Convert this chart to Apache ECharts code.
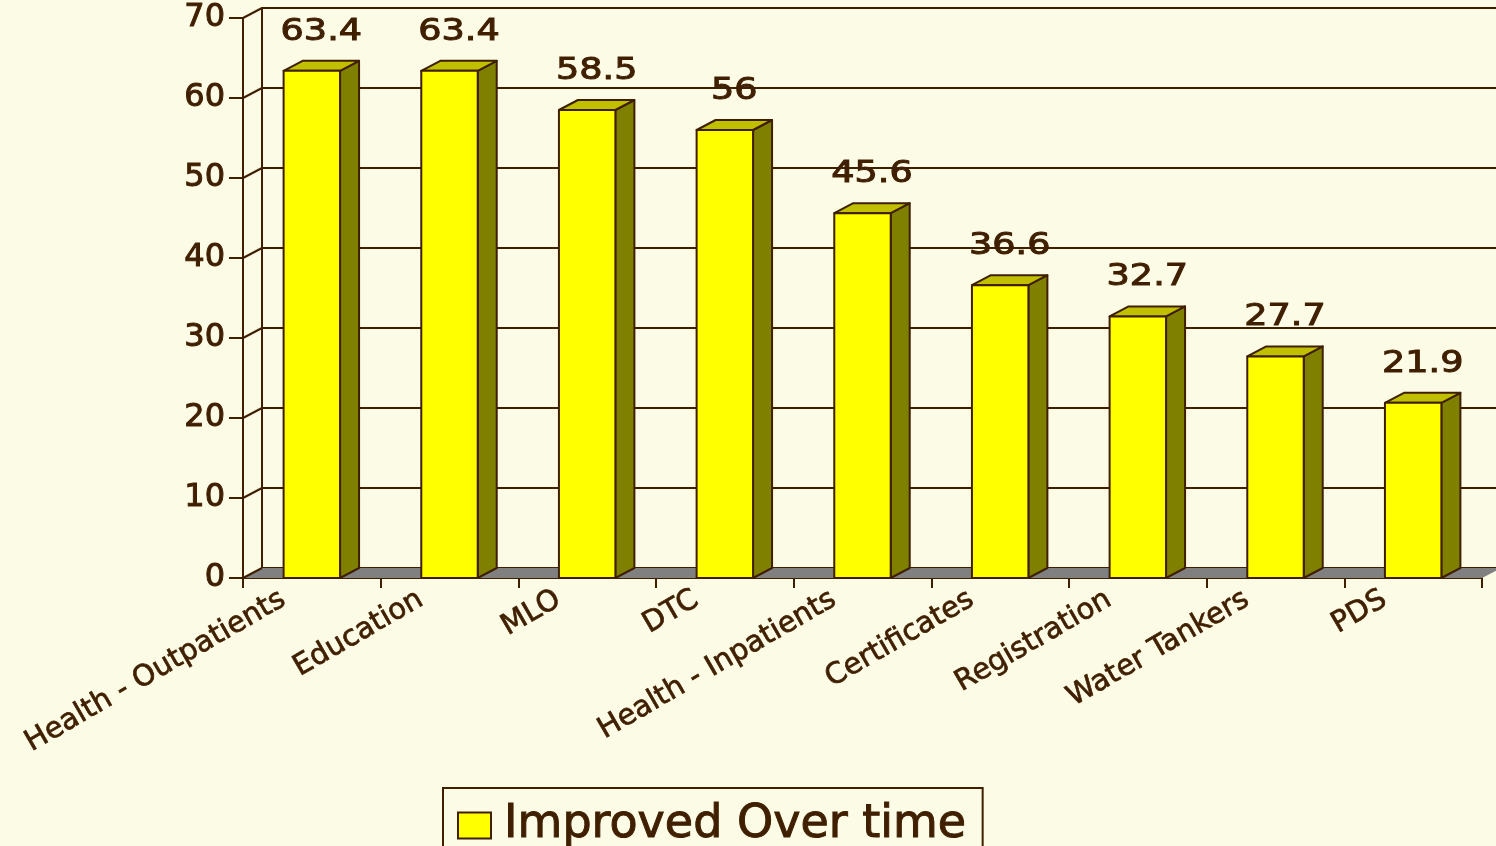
<!DOCTYPE html>
<html>
<head>
<meta charset="utf-8">
<script src="https://cdn.jsdelivr.net/npm/echarts@6/dist/echarts.min.js"></script>
<style>
  html, body { margin: 0; padding: 0; background: #FBFBE6; }
  #chart { width: 1496px; height: 846px; }
</style>
</head>
<body>
<div id="chart"></div>
<script>
const categories = ['Health - Outpatients', 'Education', 'MLO', 'DTC', 'Health - Inpatients',
  'Certificates', 'Registration', 'Water Tankers', 'PDS'];
const improved = [63.4, 63.4, 58.5, 56, 45.6, 36.6, 32.7, 27.7, 21.9];
const yTicks = [0, 10, 20, 30, 40, 50, 60, 70];

const ink = '#3F1F00';
const depthX = 19;
const depthY = -10;

// floor + the little diagonals joining the front axis to the back wall
const renderFloor = (params, api) => {
  const band = api.size([1, 0])[0];
  const left = api.coord([0, 0])[0] - band / 2;
  const right = api.coord([categories.length - 1, 0])[0] + band / 2;
  const y0 = api.coord([0, 0])[1];
  const children = [{
    type: 'polygon',
    shape: { points: [[left, y0], [right, y0], [right + depthX, y0 + depthY], [left + depthX, y0 + depthY]] },
    style: { fill: '#808080', stroke: null }
  }];
  yTicks.forEach((v) => {
    const y = api.coord([0, v])[1];
    children.push({
      type: 'line',
      shape: { x1: left, y1: y, x2: left + depthX, y2: y + depthY },
      style: { stroke: ink, lineWidth: 2 }
    });
  });
  return { type: 'group', children: children };
};

const renderBar = (params, api) => {
  const x = api.value(0);
  const v = api.value(1);
  const base = api.coord([x, 0]);
  const top = api.coord([x, v]);
  const w = api.size([1, 0])[0] * 0.41;
  const l = base[0] - w / 2;
  const r = base[0] + w / 2;
  const edge = { stroke: ink, lineWidth: 2, lineJoin: 'round' };
  return {
    type: 'group',
    children: [
      {
        type: 'polygon',
        shape: { points: [[r, top[1]], [r + depthX, top[1] + depthY], [r + depthX, base[1] + depthY], [r, base[1]]] },
        style: Object.assign({ fill: '#808000' }, edge)
      },
      {
        type: 'polygon',
        shape: { points: [[l, top[1]], [l + depthX, top[1] + depthY], [r + depthX, top[1] + depthY], [r, top[1]]] },
        style: Object.assign({ fill: '#C0C000' }, edge)
      },
      {
        type: 'rect',
        shape: { x: l, y: top[1], width: w, height: base[1] - top[1] },
        style: Object.assign({ fill: '#FFFF00' }, edge)
      },
      {
        // the original labels are stretched sideways
        type: 'text',
        x: base[0] + depthX / 2,
        y: top[1] - 24,
        scaleX: 1.22,
        style: {
          x: 0,
          y: 0,
          text: String(v),
          fill: ink,
          stroke: ink,
          lineWidth: 1,
          font: '30px "DejaVu Sans"',
          align: 'center',
          verticalAlign: 'bottom'
        }
      }
    ]
  };
};

const chart = echarts.init(document.getElementById('chart'));
chart.setOption({
  backgroundColor: '#FBFBE6',
  animation: false,
  textStyle: { fontFamily: 'DejaVu Sans', color: ink },
  grid: [
    { left: 243, right: 14, top: 18, bottom: 268 },
    { left: 262, right: -40, top: 8, bottom: 278 }
  ],
  legend: {
    data: ['Improved Over time'],
    left: 443,
    top: 788,
    padding: [14, 16, 14, 14],
    borderColor: ink,
    borderWidth: 2,
    icon: 'rect',
    itemWidth: 33,
    itemHeight: 26,
    itemStyle: { borderColor: ink, borderWidth: 2 },
    textStyle: {
      fontSize: 46, color: ink, fontFamily: 'DejaVu Sans', padding: [0, 0, 0, 8],
      textBorderColor: ink, textBorderWidth: 1
    }
  },
  xAxis: [
    {
      type: 'category',
      gridIndex: 0,
      data: categories,
      axisLine: { lineStyle: { color: ink, width: 2 } },
      axisTick: { show: true, length: 10, lineStyle: { color: ink, width: 2 } },
      axisLabel: {
        interval: 0,
        rotate: 30,
        fontSize: 29,
        color: ink,
        textBorderColor: ink,
        textBorderWidth: 0.7,
        margin: 3,
        padding: [0, 33, 0, 0]
      }
    },
    { type: 'value', gridIndex: 1, show: false, min: 0, max: 1 }
  ],
  yAxis: [
    {
      type: 'value',
      gridIndex: 0,
      min: 0,
      max: 70,
      interval: 10,
      axisLine: { show: true, lineStyle: { color: ink, width: 2 } },
      axisTick: { show: true, length: 14, lineStyle: { color: ink, width: 2 } },
      axisLabel: { fontSize: 32, color: ink, margin: 18, textBorderColor: ink, textBorderWidth: 1 },
      splitLine: { show: false }
    },
    {
      type: 'value',
      gridIndex: 1,
      min: 0,
      max: 70,
      interval: 10,
      axisLine: { show: true, lineStyle: { color: ink, width: 2 } },
      axisTick: { show: false },
      axisLabel: { show: false },
      splitLine: { show: true, lineStyle: { color: ink, width: 2 } }
    }
  ],
  series: [
    {
      name: 'floor',
      type: 'custom',
      xAxisIndex: 0,
      yAxisIndex: 0,
      renderItem: renderFloor,
      data: [[0, 0]],
      z: 1,
      silent: true
    },
    {
      name: 'Improved Over time',
      type: 'custom',
      xAxisIndex: 0,
      yAxisIndex: 0,
      renderItem: renderBar,
      itemStyle: { color: '#FFFF00' },
      data: improved.map((v, i) => [i, v]),
      z: 3
    }
  ]
});
</script>
</body>
</html>
